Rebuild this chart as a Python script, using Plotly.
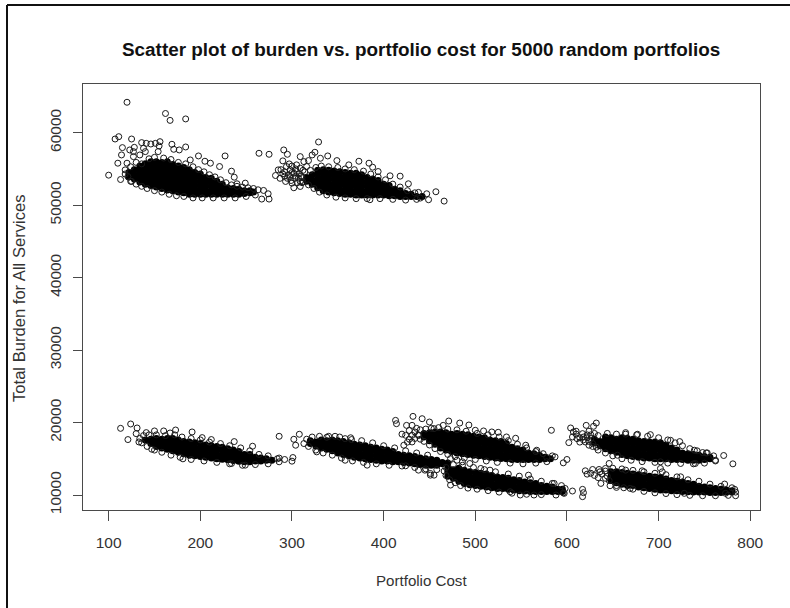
import plotly.graph_objects as go

title_text = "Scatter plot of burden vs. portfolio cost for 5000 random portfolios"
x_label = "Portfolio Cost"
y_label = "Total Burden for All Services"
x_ticks = [100, 200, 300, 400, 500, 600, 700, 800]
y_ticks = [10000, 20000, 30000, 40000, 50000, 60000]

# Dense bands: portfolio cost, then the burdens read at that cost.
band_a = [(122,[53900,54500]),(128,[53600,54200,54900]),(134,[53200,53800,54400,55000,55400]),
(140,[52900,53500,54100,54700,55300,55700]),(146,[52700,53300,53900,54500,55100,55700,56000]),
(152,[52500,53100,53700,54300,54900,55500,56000]),(158,[52300,52900,53500,54100,54700,55300,55900]),
(164,[52100,52700,53300,53900,54500,55100,55700,56000]),(170,[52000,52600,53200,53800,54400,55000,55600]),
(176,[51800,52400,53000,53600,54200,54800,55400]),(182,[51700,52300,52900,53500,54100,54700,55200]),
(188,[51500,52100,52700,53300,53900,54500,54900]),(194,[51500,52100,52700,53300,53900,54500]),
(200,[51500,52000,52600,53200,53800,54300]),(206,[51500,52000,52600,53200,53800]),
(212,[51500,52000,52600,53200,53700]),(218,[51500,52000,52500,53000,53300]),(224,[51500,52000,52500,52900]),
(230,[51500,52000,52400]),(236,[51500,52000,52300]),(242,[51500,52000,52200]),(248,[51600,52000]),
(254,[51700,52000]),(258,[51800])]
band_b = [(316,[53300,53800]),(322,[52900,53500,54200]),(328,[52400,53000,53600,54300,54800]),
(334,[52000,52600,53200,53800,54400,54900]),(340,[51800,52400,53000,53600,54200,54800]),
(346,[51700,52300,52900,53500,54100,54700]),(352,[51600,52200,52800,53400,54000,54600]),
(358,[51500,52100,52700,53300,53900,54500]),(364,[51500,52100,52700,53300,53900,54400]),
(370,[51400,52000,52600,53200,53800,54400]),(376,[51400,52000,52600,53200,53800,54200]),
(382,[51400,52000,52600,53200,53800]),(388,[51400,52000,52600,53100,53600]),(394,[51400,52000,52500,53000,53400]),
(400,[51400,52000,52500,52900]),(406,[51300,51800,52300,52700]),(412,[51300,51800,52200]),
(418,[51200,51700,52000]),(424,[51200,51600]),(430,[51200,51500]),(436,[51200]),(442,[51200])]
band_c = [(140,[17600]),(146,[17100,17700]),(152,[16700,17300,17800]),(158,[16500,17100,17700]),
(164,[16300,16900,17500,17800]),(170,[16100,16700,17300,17800]),(176,[15900,16500,17100,17600]),
(182,[15700,16300,16900,17400]),(188,[15500,16100,16700,17300]),(194,[15400,16000,16600,17200]),
(200,[15300,15900,16500,17100]),(206,[15200,15800,16400,16900]),(212,[15100,15700,16300,16800]),
(218,[15000,15600,16200,16700]),(224,[14950,15500,16100,16600]),(230,[14850,15400,16000,16400]),
(236,[14750,15300,15800,16200]),(242,[14650,15200,15700,16000]),(248,[14600,15100,15600]),
(254,[14600,15100,15600]),(260,[14700,15200]),(266,[14700,15100]),(272,[14800,15000]),(278,[14800])]
band_d = [(320,[17100,17500]),(326,[16800,17300]),(332,[16500,17100,17600]),(338,[16300,16900,17500]),
(344,[16100,16700,17300,17600]),(350,[15800,16400,17000,17500]),(356,[15600,16200,16800,17400]),
(362,[15400,16000,16600,17200]),(368,[15200,15800,16400,17000]),(374,[15100,15700,16300,16900]),
(380,[15000,15600,16200,16800]),(386,[14900,15500,16100,16600]),(392,[14800,15400,16000,16500]),
(398,[14700,15300,15900,16300]),(404,[14700,15200,15800,16200]),(410,[14600,15100,15700,16000]),
(416,[14600,15100,15600]),(422,[14500,15000,15500]),(428,[14400,14900,15400]),(434,[14300,14800,15300]),
(440,[14200,14700,15100]),(446,[14100,14600,15000]),(452,[14100,14500,14900]),(458,[14100,14500,14800]),
(464,[14300,14500]),(470,[14400])]
band_e = [(444,[18000,18500]),(450,[17500,18100,18600]),(456,[17000,17600,18200,18700]),
(462,[16500,17100,17700,18300,18700]),(468,[16200,16800,17400,18000,18600]),(474,[16000,16600,17200,17800,18400]),
(480,[15800,16400,17000,17600,18200,18500]),(486,[15700,16300,16900,17500,18100,18400]),
(492,[15600,16200,16800,17400,18000,18300]),(498,[15500,16100,16700,17300,17900,18100]),
(504,[15400,16000,16600,17200,17800,18000]),(510,[15300,15900,16500,17100,17700,17900]),
(516,[15200,15800,16400,17000,17600]),(522,[15100,15700,16300,16900,17500]),(528,[15050,15600,16200,16800,17400]),
(534,[15000,15500,16100,16700,17100]),(540,[14900,15500,16100,16600]),(546,[14900,15500,16000,16400]),
(552,[14900,15400,15900,16200]),(558,[14900,15400,15800]),(564,[14900,15300,15700]),(570,[14900,15200,15500]),
(576,[15000,15200]),(582,[15000])]
band_f = [(470,[12600,13200,13700]),(476,[12300,12900,13500]),(482,[11900,12500,13100,13700]),
(488,[11600,12200,12800,13400]),(494,[11400,12000,12600,13200]),(500,[11300,11900,12500,13100]),
(506,[11200,11800,12400,13000]),(512,[11100,11700,12300,12900]),(518,[11000,11600,12200,12700]),
(524,[10900,11500,12100,12500]),(530,[10900,11400,12000,12400]),(536,[10800,11300,11900,12300]),
(542,[10700,11200,11800,12100]),(548,[10600,11100,11700,12000]),(554,[10550,11000,11500,11800]),
(560,[10500,11000,11400,11700]),(566,[10500,10950,11300,11600]),(572,[10500,10900,11300]),
(578,[10500,10900,11200]),(584,[10500,10800,11100]),(590,[10500,10800]),(595,[10500,10800])]
band_g = [(630,[17200,17700]),(636,[16800,17400]),(642,[16400,17000,17600,18000]),(648,[16100,16700,17300,17900]),
(654,[15900,16500,17100,17700]),(660,[15600,16200,16800,17400,17900]),(666,[15400,16000,16600,17200,17800]),
(672,[15300,15900,16500,17100,17700]),(678,[15200,15800,16400,17000,17500]),(684,[15100,15700,16300,16900,17400]),
(690,[15100,15700,16300,16900,17300]),(696,[15000,15600,16200,16800,17300]),(702,[15000,15600,16200,16800,17200]),
(708,[15000,15500,16100,16600,16900]),(714,[14900,15500,16100,16500]),(720,[14900,15400,16000,16200]),
(726,[14900,15400,15800]),(732,[14800,15300,15700]),(738,[14800,15300,15600]),(744,[14800,15300,15500]),
(750,[14900,15300]),(756,[15000,15200])]
band_h = [(648,[12000,12600,13200]),(654,[11700,12300,12900,13200]),(660,[11500,12100,12700,13100]),
(666,[11300,11900,12500,13000]),(672,[11300,11900,12500,12900]),(678,[11100,11700,12300,12800]),
(684,[11000,11600,12200,12700]),(690,[10900,11500,12100,12600]),(696,[10800,11400,12000,12500]),
(702,[10700,11300,11900,12400]),(708,[10700,11300,11900,12200]),(714,[10600,11200,11800,12000]),
(720,[10600,11100,11600,11900]),(726,[10500,11000,11500,11800]),(732,[10450,10950,11400,11600]),
(738,[10400,10900,11300,11500]),(744,[10400,10900,11200]),(750,[10400,10800,11100]),(756,[10350,10800,11000]),
(762,[10350,10700,10900]),(768,[10350,10600,10800]),(774,[10400,10700]),(780,[10400,10600])]

# Portfolios that stand apart from the dense bands.
upper_left_points = [(120,64200),(162,62650),(167,61700),(184,61900),(107,59130),(111,59450),(125,59130),(115,57940),
(100,54140),(113,53540),(110,55790),(114,56930),(123,57620),(128,57980),(136,58630),(141,58530),(146,58440),(151,58530),
(156,58760),(155,58170),(138,57850),(169,58400),(171,57710),(177,57620),(184,58030),(154,57390),(198,56790),(227,56790),
(205,56060),(189,56240),(211,55790),(221,55330),(234,54690),(237,53860),(240,52950),(249,53040),(263,52120),(269,52030),
(274,51570),(275,50840),(267,50840),(264,57160),(275,57020),(118,54870),(121,53950),(125,53270),(120,55790),(127,56700),
(134,56930),(127,57390),(140,57390)]
upper_right_points = [(291,57620),(295,57020),(290,56110),(297,55690),(285,54870),(282,54090),(290,54320),(293,53270),
(302,52400),(309,56700),(329,58720),(325,57300),(322,56930),(318,56150),(331,56470),(339,56790),(349,56150),(362,55560),
(373,56060),(384,55790),(388,55240),(394,54640),(407,54050),(418,54000),(427,52950),(438,51760),(447,51570),(457,51850),
(466,50560),(449,50750),(440,50980),(385,50750),(309,52580),(298,53950),(305,54640),(298,54870),(294,55330),(302,54410),
(307,53720),(300,53040),(305,55560),(313,56010),(316,55330),(309,53270),(288,54900),(292,54600),(296,54200),(300,54500),
(304,54000),(308,54300),(311,53800),(295,53700),(299,53400),(303,53700),(306,53100),(311,53100),(287,53700),(292,54000),
(304,55000),(309,55100),(300,55400),(312,54800)]
lower_left_points = [(113,19200),(124,19800),(121,17650),(131,19250),(130,18470),(141,18610),(150,18840),(160,18840),
(167,18560),(173,18970),(191,18700),(202,17920),(212,17650),(237,17370),(257,16730),(286,18100),(181,14990),(249,14120),
(234,14350),(147,16320),(133,17320),(286,14580),(292,14900),(301,15170),(300,14670)]
lower_middle_points = [(308,18380),(302,17690),(304,16870),(313,17100),(338,17970),(347,18100),(358,17780),(365,17650),
(327,15950),(358,14800),(382,14120),(424,14030),(438,13430),(445,13430),(451,12970),(413,20300),(414,19840),(432,20850),
(442,20530),(450,20070),(425,19610),(431,19610),(424,18240),(431,18240),(431,17320),(455,19160),(422,16870),(465,19610),
(471,20210),(483,19930),(493,19660),(500,18930),(509,18840),(518,18700),(525,18650),(534,18010),(544,17830),(555,16870),
(567,16180),(578,15170),(587,15260),(600,14900),(596,14440),(583,18930),(451,12740),(455,12740),(473,15030),(480,14800),
(494,14350),(486,14580),(473,11370),(506,13660),(516,13430),(538,10450),(549,10000),(564,10000),(586,11600),(558,12740),
(606,10550),(617,10780),(618,10320),(617,9770),(597,10230),(428,18900),(434,18700),(436,19200),(438,18200),(434,17800),
(428,17700),(440,17700),(420,18400),(426,17300)]
lower_right_points = [(604,19250),(606,18010),(602,17230),(617,18470),(621,19610),(632,19930),(629,19480),(611,17780),
(620,17320),(607,18700),(624,16870),(664,18610),(677,18380),(691,18330),(713,17550),(723,17370),(739,16180),(748,15860),
(753,15810),(771,15450),(781,14300),(762,14800),(740,14350),(702,14580),(655,15490),(646,14350),(620,13340),(628,13520),
(635,13520),(622,12880),(637,11600),(647,11280),(654,11050),(642,13660),(664,13430),(682,13340),(702,13660),(704,13200),
(724,12510),(772,11510),(783,10780),(784,9900),(773,10230),(728,10230),(669,10910),(610,18400),(614,17900),(618,18000),
(622,18300),(626,17800),(614,17300),(618,17600),(624,17400),(628,17100),(632,16600),(610,18800),(624,18800),(630,18500),
(626,13000),(630,12700),(634,12400),(638,12900),(636,13200),(642,12300)]

# More portfolios along the fuzzy rims of the bands.
rim_upper = [(118,54300),(124,55300),(130,55900),(136,55700),(144,56400),(150,56600),(160,56500),(168,56300),(176,55900),
(184,55700),(192,55300),(198,54900),(204,54600),(210,54200),(216,53900),(222,53500),(228,53100),(234,52800),(240,52600),
(246,52500),(252,52400),(258,52300),(124,53300),(130,52900),(136,52600),(142,52300),(150,52000),(158,51800),(166,51500),
(174,51300),(182,51200),(192,51000),(202,51000),(214,51000),(226,51000),(238,51000),(250,51200),(260,51400),
(310,54000),(314,54600),(320,54800),(326,55200),(332,55400),(340,55300),(350,55200),(358,55000),(368,54900),(378,54700),
(386,54300),(394,53900),(402,53500),(410,52900),(418,52500),(426,52000),(434,51700),(312,53200),(318,52800),(324,52300),
(330,51800),(338,51400),(348,51100),(358,51000),(370,50900),(382,50900),(396,50900),(410,50800),(424,50700),(436,50800)]
rim_lower = [(134,17800),(138,18200),(144,18300),(152,18300),(162,18200),(172,18300),(180,18000),(190,17800),(200,17600),
(210,17300),(222,17100),(232,16800),(244,16500),(254,16100),(264,15600),(274,15400),(284,15000),(136,17200),(142,16700),
(150,16200),(158,15900),(168,15500),(178,15200),(190,14900),(204,14700),(218,14500),(232,14300),(246,14100),(260,14200),
(274,14300),(286,15100),
(316,17700),(322,18000),(330,18100),(340,18100),(352,18000),(364,17900),(376,17500),(388,17200),(400,16800),(412,16500),
(424,16100),(436,15800),(448,15500),(318,16700),(326,16200),(334,15800),(344,15500),(354,15100),(366,14700),(378,14500),
(392,14300),(406,14100),(420,14000),(434,13800),(446,13600),(458,13500),(468,13800),
(438,18300),(440,19000),(446,19100),(452,19200),(460,19300),(470,19100),(480,19000),(490,18800),(502,18500),(514,18300),
(526,18000),(536,17500),(546,17000),(556,16500),(566,16000),(574,15700),(584,15400),(444,17400),(450,16900),(456,16400),
(462,16000),(470,15600),(478,15300),(488,15100),(500,14900),(512,14700),(524,14500),(538,14400),(552,14300),(566,14400),
(578,14600),
(466,13300),(468,12700),(472,12100),(478,11700),(484,11300),(492,10950),(502,10800),(514,10600),(526,10400),(540,10250),
(556,10100),(572,10050),(588,10000),(596,10300),(598,10900),(594,11300),(584,11600),(572,11900),(560,12200),(548,12600),
(536,12900),(522,13200),(510,13500),(498,13800),(486,14100),(476,14200),
(622,17900),(626,18300),(634,18200),(644,18500),(654,18400),(664,18400),(676,18300),(688,18100),(700,17900),(710,17600),
(718,17200),(726,16800),(734,16400),(742,16100),(752,15800),(760,15400),(628,16700),(634,16200),(642,15800),(650,15400),
(660,15000),(670,14800),(682,14600),(696,14500),(710,14400),(724,14350),(738,14300),(750,14400),(762,14700),
(642,13300),(644,12600),(646,12000),(654,11300),(662,11000),(672,10800),(684,10500),(696,10300),(708,10200),(720,10050),
(734,9950),(748,9900),(762,9900),(776,9950),(784,10400),(780,11000),(768,11200),(756,11500),(744,11900),(732,12100),
(720,12500),(708,12800),(696,13000),(684,13200),(672,13400),(660,13600),(650,13700)]

bands = [band_a, band_b, band_c, band_d, band_e, band_f, band_g, band_h]
fringes = [upper_left_points, upper_right_points, lower_left_points, lower_middle_points, lower_right_points,
           rim_upper, rim_lower]

band_x = [x for band in bands for x, ys in band for _ in ys]
band_y = [y for band in bands for _, ys in band for y in ys]
fringe_x = [p[0] for group in fringes for p in group]
fringe_y = [p[1] for group in fringes for p in group]

INK = "#4a4a4a"
FONT = "Liberation Sans, Arial, sans-serif"

fig = go.Figure()
fig.add_trace(go.Scatter(x=band_x, y=band_y, mode="markers", hoverinfo="skip",
    marker=dict(symbol="circle", size=7, color="#000000", line=dict(width=0))))
fig.add_trace(go.Scatter(x=fringe_x, y=fringe_y, mode="markers",
    marker=dict(symbol="circle-open", size=6, color="#1a1a1a", line=dict(width=1))))

W, H = 790, 608
L, R, T, B = 83, 760, 84, 510
fig.update_layout(
    width=W, height=H, autosize=False, showlegend=False,
    paper_bgcolor="white", plot_bgcolor="white",
    margin=dict(l=L, r=W - R, t=T, b=H - B, pad=0),
    font=dict(family=FONT, color="#333333", size=13),
    xaxis=dict(range=[72, 810.6], tickvals=x_ticks, showgrid=False, zeroline=False,
               ticks="outside", ticklen=10, tickwidth=1, tickcolor=INK,
               showline=True, linecolor=INK, linewidth=1, mirror=True,
               tickfont=dict(size=15.5, color="#333333"), ticklabelstandoff=8),
    yaxis=dict(range=[7930, 66720], tickvals=y_ticks, tickformat="d", showgrid=False, zeroline=False,
               ticks="outside", ticklen=9, tickwidth=1, tickcolor=INK,
               showline=True, linecolor=INK, linewidth=1, mirror=True,
               tickangle=-90, tickfont=dict(size=15.5, color="#333333"), ticklabelstandoff=6),
    annotations=[
        dict(text="<b>%s</b>" % title_text, xref="paper", yref="paper", x=(421 - L) / (R - L),
             y=(B - 49) / (B - T), xanchor="center", yanchor="middle", showarrow=False,
             font=dict(size=18.9, color="#111111", family=FONT)),
        dict(text=x_label, xref="paper", yref="paper", x=(421 - L) / (R - L), y=(B - 580) / (B - T),
             xanchor="center", yanchor="middle", showarrow=False, font=dict(size=15.1, color="#333333")),
        dict(text=y_label, xref="paper", yref="paper", x=(19 - L) / (R - L), y=(B - 298) / (B - T),
             xanchor="center", yanchor="middle", showarrow=False, textangle=-90,
             font=dict(size=16.6, color="#333333")),
    ],
    shapes=[
        dict(type="line", xref="paper", yref="paper", x0=(7 - L) / (R - L), x1=(790 - L) / (R - L),
             y0=(B - 5) / (B - T), y1=(B - 5) / (B - T), line=dict(color="#111111", width=2)),
        dict(type="line", xref="paper", yref="paper", x0=(7 - L) / (R - L), x1=(7 - L) / (R - L),
             y0=(B - 5) / (B - T), y1=(B - 608) / (B - T), line=dict(color="#111111", width=2)),
    ],
)
fig.write_html("out.html", config={"displayModeBar": False},
               post_script="document.body.style.margin='0';document.body.style.overflow='hidden';")
